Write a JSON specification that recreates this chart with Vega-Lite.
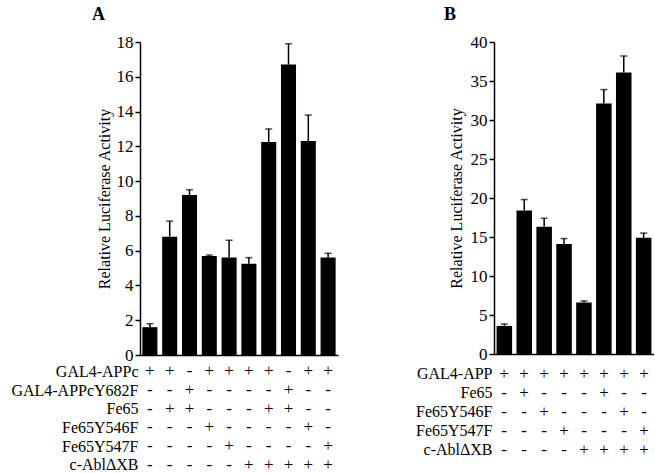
{
  "$schema": "https://vega.github.io/schema/vega-lite/v6.json",
  "padding": {"left": 10, "top": 6, "right": 0, "bottom": 0},
  "background": "white",
  "datasets": {
    "A": [
      {"c": 1, "v": 1.6, "hi": 1.8, "GAL4-APPc": "+", "GAL4-APPcY682F": "-", "Fe65": "-", "Fe65Y546F": "-", "Fe65Y547F": "-", "c-AblΔXB": "-"},
      {"c": 2, "v": 6.8, "hi": 7.7, "GAL4-APPc": "+", "GAL4-APPcY682F": "-", "Fe65": "+", "Fe65Y546F": "-", "Fe65Y547F": "-", "c-AblΔXB": "-"},
      {"c": 3, "v": 9.2, "hi": 9.5, "GAL4-APPc": "-", "GAL4-APPcY682F": "+", "Fe65": "+", "Fe65Y546F": "-", "Fe65Y547F": "-", "c-AblΔXB": "-"},
      {"c": 4, "v": 5.7, "hi": 5.75, "GAL4-APPc": "+", "GAL4-APPcY682F": "-", "Fe65": "-", "Fe65Y546F": "+", "Fe65Y547F": "-", "c-AblΔXB": "-"},
      {"c": 5, "v": 5.6, "hi": 6.6, "GAL4-APPc": "+", "GAL4-APPcY682F": "-", "Fe65": "-", "Fe65Y546F": "-", "Fe65Y547F": "+", "c-AblΔXB": "-"},
      {"c": 6, "v": 5.25, "hi": 5.6, "GAL4-APPc": "+", "GAL4-APPcY682F": "-", "Fe65": "-", "Fe65Y546F": "-", "Fe65Y547F": "-", "c-AblΔXB": "+"},
      {"c": 7, "v": 12.25, "hi": 13.0, "GAL4-APPc": "+", "GAL4-APPcY682F": "-", "Fe65": "+", "Fe65Y546F": "-", "Fe65Y547F": "-", "c-AblΔXB": "+"},
      {"c": 8, "v": 16.7, "hi": 17.9, "GAL4-APPc": "-", "GAL4-APPcY682F": "+", "Fe65": "+", "Fe65Y546F": "-", "Fe65Y547F": "-", "c-AblΔXB": "+"},
      {"c": 9, "v": 12.3, "hi": 13.8, "GAL4-APPc": "+", "GAL4-APPcY682F": "-", "Fe65": "-", "Fe65Y546F": "+", "Fe65Y547F": "-", "c-AblΔXB": "+"},
      {"c": 10, "v": 5.6, "hi": 5.85, "GAL4-APPc": "+", "GAL4-APPcY682F": "-", "Fe65": "-", "Fe65Y546F": "-", "Fe65Y547F": "+", "c-AblΔXB": "+"}
    ],
    "B": [
      {"c": 1, "v": 3.6, "hi": 3.85, "GAL4-APP": "+", "Fe65": "-", "Fe65Y546F": "-", "Fe65Y547F": "-", "c-AblΔXB": "-"},
      {"c": 2, "v": 18.4, "hi": 19.8, "GAL4-APP": "+", "Fe65": "+", "Fe65Y546F": "-", "Fe65Y547F": "-", "c-AblΔXB": "-"},
      {"c": 3, "v": 16.3, "hi": 17.4, "GAL4-APP": "+", "Fe65": "-", "Fe65Y546F": "+", "Fe65Y547F": "-", "c-AblΔXB": "-"},
      {"c": 4, "v": 14.1, "hi": 14.8, "GAL4-APP": "+", "Fe65": "-", "Fe65Y546F": "-", "Fe65Y547F": "+", "c-AblΔXB": "-"},
      {"c": 5, "v": 6.6, "hi": 6.8, "GAL4-APP": "+", "Fe65": "-", "Fe65Y546F": "-", "Fe65Y547F": "-", "c-AblΔXB": "+"},
      {"c": 6, "v": 32.1, "hi": 33.9, "GAL4-APP": "+", "Fe65": "+", "Fe65Y546F": "-", "Fe65Y547F": "-", "c-AblΔXB": "+"},
      {"c": 7, "v": 36.1, "hi": 38.2, "GAL4-APP": "+", "Fe65": "-", "Fe65Y546F": "+", "Fe65Y547F": "-", "c-AblΔXB": "+"},
      {"c": 8, "v": 14.9, "hi": 15.5, "GAL4-APP": "+", "Fe65": "-", "Fe65Y546F": "-", "Fe65Y547F": "+", "c-AblΔXB": "+"}
    ]
  },
  "config": {
    "font": "Liberation Serif",
    "view": {"stroke": null},
    "axis": {
      "labelFont": "Liberation Serif",
      "titleFont": "Liberation Serif",
      "labelColor": "black",
      "titleColor": "black",
      "domainColor": "black",
      "tickColor": "black",
      "grid": false,
      "labelOverlap": false
    },
    "axisY": {"labelOverlap": false},
    "axisQuantitative": {"labelOverlap": false},
    "title": {"font": "Liberation Serif", "fontSize": 18, "fontWeight": "bold", "anchor": "start", "frame": "bounds", "color": "black", "offset": 9}
  },
  "spacing": 77,
  "resolve": {"scale": {"x": "independent", "y": "independent"}},
  "hconcat": [
    {
      "spacing": 7,
      "bounds": "flush",
      "resolve": {"scale": {"y": "independent"}},
      "vconcat": [
        {
          "title": {"text": "A", "dx": -4},
          "width": 198,
          "height": 313,
          "data": {"name": "A"},
          "encoding": {
            "x": {"field": "c", "type": "ordinal", "scale": {"paddingInner": 0.24, "paddingOuter": 0.12},
                  "axis": {"labels": false, "ticks": false, "title": null, "domainWidth": 1.5}}
          },
          "layer": [
            {
              "mark": {"type": "bar", "color": "black"},
              "encoding": {
                "y": {"field": "v", "type": "quantitative", "scale": {"domain": [0, 18], "nice": false},
                      "axis": {"values": [0, 2, 4, 6, 8, 10, 12, 14, 16, 18], "labelOverlap": false,
                               "title": "Relative Luciferase Activity",
                               "titleFontSize": 16, "titleFontWeight": "normal", "labelFontSize": 17,
                               "tickSize": 5, "labelPadding": 2, "titlePadding": 4, "domainWidth": 1.5, "tickWidth": 1.5}}
              }
            },
            {
              "mark": {"type": "rule", "color": "black", "strokeWidth": 1.5},
              "encoding": {
                "y": {"field": "v", "type": "quantitative",
                      "axis": {"values": [0, 2, 4, 6, 8, 10, 12, 14, 16, 18], "labelOverlap": false,
                               "title": "Relative Luciferase Activity",
                               "titleFontSize": 16, "titleFontWeight": "normal", "labelFontSize": 17,
                               "tickSize": 5, "labelPadding": 2, "titlePadding": 4, "domainWidth": 1.5, "tickWidth": 1.5}},
                "y2": {"field": "hi"}
              }
            },
            {
              "mark": {"type": "tick", "color": "black", "thickness": 1.5, "size": 7},
              "encoding": {
                "y": {"field": "hi", "type": "quantitative",
                      "axis": {"values": [0, 2, 4, 6, 8, 10, 12, 14, 16, 18], "labelOverlap": false,
                               "title": "Relative Luciferase Activity",
                               "titleFontSize": 16, "titleFontWeight": "normal", "labelFontSize": 17,
                               "tickSize": 5, "labelPadding": 2, "titlePadding": 4, "domainWidth": 1.5, "tickWidth": 1.5}}
              }
            }
          ]
        },
        {
          "width": 198,
          "height": 112,
          "data": {"name": "A"},
          "transform": [{"fold": ["GAL4-APPc", "GAL4-APPcY682F", "Fe65", "Fe65Y546F", "Fe65Y547F", "c-AblΔXB"], "as": ["row", "sym"]}],
          "mark": {"type": "text", "font": "Liberation Serif", "fontSize": 17, "color": "black"},
          "encoding": {
            "x": {"field": "c", "type": "ordinal", "scale": {"paddingInner": 0.24, "paddingOuter": 0.12}, "axis": null},
            "y": {"field": "row", "type": "nominal",
                  "sort": ["GAL4-APPc", "GAL4-APPcY682F", "Fe65", "Fe65Y546F", "Fe65Y547F", "c-AblΔXB"],
                  "axis": {"domain": false, "ticks": false, "title": null, "labelFontSize": 16, "labelPadding": 2}},
            "text": {"field": "sym"}
          }
        }
      ]
    },
    {
      "spacing": 10,
      "bounds": "flush",
      "resolve": {"scale": {"y": "independent"}},
      "vconcat": [
        {
          "title": {"text": "B", "dx": -4},
          "width": 160,
          "height": 312,
          "data": {"name": "B"},
          "encoding": {
            "x": {"field": "c", "type": "ordinal", "scale": {"paddingInner": 0.22, "paddingOuter": 0.13},
                  "axis": {"labels": false, "ticks": false, "title": null, "domainWidth": 1.5}}
          },
          "layer": [
            {
              "mark": {"type": "bar", "color": "black"},
              "encoding": {
                "y": {"field": "v", "type": "quantitative", "scale": {"domain": [0, 40], "nice": false},
                      "axis": {"values": [0, 5, 10, 15, 20, 25, 30, 35, 40], "labelOverlap": false,
                               "title": "Relative Luciferase Activity",
                               "titleFontSize": 16, "titleFontWeight": "normal", "labelFontSize": 17,
                               "tickSize": 5, "labelPadding": 2, "titlePadding": 6, "domainWidth": 1.5, "tickWidth": 1.5}}
              }
            },
            {
              "mark": {"type": "rule", "color": "black", "strokeWidth": 1.5},
              "encoding": {
                "y": {"field": "v", "type": "quantitative",
                      "axis": {"values": [0, 5, 10, 15, 20, 25, 30, 35, 40], "labelOverlap": false,
                               "title": "Relative Luciferase Activity",
                               "titleFontSize": 16, "titleFontWeight": "normal", "labelFontSize": 17,
                               "tickSize": 5, "labelPadding": 2, "titlePadding": 6, "domainWidth": 1.5, "tickWidth": 1.5}},
                "y2": {"field": "hi"}
              }
            },
            {
              "mark": {"type": "tick", "color": "black", "thickness": 1.5, "size": 7},
              "encoding": {
                "y": {"field": "hi", "type": "quantitative",
                      "axis": {"values": [0, 5, 10, 15, 20, 25, 30, 35, 40], "labelOverlap": false,
                               "title": "Relative Luciferase Activity",
                               "titleFontSize": 16, "titleFontWeight": "normal", "labelFontSize": 17,
                               "tickSize": 5, "labelPadding": 2, "titlePadding": 6, "domainWidth": 1.5, "tickWidth": 1.5}}
              }
            }
          ]
        },
        {
          "width": 160,
          "height": 95,
          "data": {"name": "B"},
          "transform": [{"fold": ["GAL4-APP", "Fe65", "Fe65Y546F", "Fe65Y547F", "c-AblΔXB"], "as": ["row", "sym"]}],
          "mark": {"type": "text", "font": "Liberation Serif", "fontSize": 17, "color": "black"},
          "encoding": {
            "x": {"field": "c", "type": "ordinal", "scale": {"paddingInner": 0.22, "paddingOuter": 0.13}, "axis": null},
            "y": {"field": "row", "type": "nominal",
                  "sort": ["GAL4-APP", "Fe65", "Fe65Y546F", "Fe65Y547F", "c-AblΔXB"],
                  "axis": {"domain": false, "ticks": false, "title": null, "labelFontSize": 16, "labelPadding": 2}},
            "text": {"field": "sym"}
          }
        }
      ]
    }
  ]
}
